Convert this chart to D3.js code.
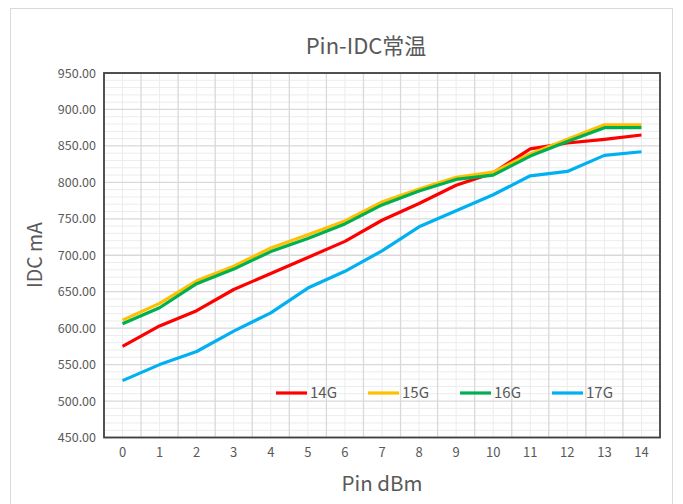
<!DOCTYPE html>
<html>
<head>
<meta charset="utf-8">
<script src="https://cdn.jsdelivr.net/npm/d3@7/dist/d3.min.js"></script>
<style>
  html, body { margin: 0; padding: 0; background: #fff; }
  svg { display: block; }
</style>
</head>
<body>
<svg id="chart" width="683" height="504"></svg>
<script>
// Input power steps (dBm)
const pinLevels = [0, 1, 2, 3, 4, 5, 6, 7, 8, 9, 10, 11, 12, 13, 14];
// Supply current (mA) per frequency band
const idc14G = [575, 603, 624, 653, 675, 697, 719, 748, 771, 796, 813, 846, 854, 859, 865];
const idc15G = [611, 634, 665, 685, 710, 728, 747, 773, 791, 807, 814, 839, 859, 879, 879];
const idc16G = [606, 628, 661, 681, 705, 723, 743, 769, 788, 804, 810, 836, 856, 875, 875];
const idc17G = [528, 550, 568, 596, 621, 655, 678, 706, 739, 761, 783, 809, 815, 837, 842];
const seriesNames = ["14G", "15G", "16G", "17G"];
const yTicks = [450, 500, 550, 600, 650, 700, 750, 800, 850, 900, 950];

const series = [
  { name: seriesNames[0], values: idc14G, color: "#ff0000" },
  { name: seriesNames[1], values: idc15G, color: "#ffc000" },
  { name: seriesNames[2], values: idc16G, color: "#00b050" },
  { name: seriesNames[3], values: idc17G, color: "#00b0f0" }
];

const svg = d3.select("#chart");
const font = "'Noto Sans CJK SC', 'Open Sans', sans-serif";
const textGray = "#595959";

// Outer chart frame
svg.append("rect")
  .attr("x", 10.5).attr("y", 8.5)
  .attr("width", 662).attr("height", 510)
  .attr("fill", "#fff").attr("stroke", "#d9d9d9").attr("stroke-width", 1);

const plot = { left: 104, top: 73, right: 660, bottom: 437.5 };

const x = d3.scaleBand().domain(pinLevels).range([plot.left, plot.right]).padding(0);
const y = d3.scaleLinear().domain([450, 950]).range([plot.bottom, plot.top]);

const g = svg.append("g");

// Minor horizontal grid every 10 mA
g.append("g").selectAll("line")
  .data(d3.range(450, 951, 10).filter(v => v % 50 !== 0))
  .join("line")
  .attr("x1", plot.left).attr("x2", plot.right)
  .attr("y1", d => y(d)).attr("y2", d => y(d))
  .attr("stroke", "#ececec").attr("stroke-width", 1);

// Minor vertical grid at category centres
g.append("g").selectAll("line")
  .data(pinLevels)
  .join("line")
  .attr("x1", d => x(d) + x.bandwidth() / 2).attr("x2", d => x(d) + x.bandwidth() / 2)
  .attr("y1", plot.top).attr("y2", plot.bottom)
  .attr("stroke", "#ececec").attr("stroke-width", 1);

// Major horizontal grid
g.append("g").selectAll("line")
  .data(yTicks)
  .join("line")
  .attr("x1", plot.left).attr("x2", plot.right)
  .attr("y1", d => y(d)).attr("y2", d => y(d))
  .attr("stroke", "#d9d9d9").attr("stroke-width", 1.3);

// Major vertical grid at category boundaries
g.append("g").selectAll("line")
  .data(pinLevels.slice(1))
  .join("line")
  .attr("x1", d => x(d)).attr("x2", d => x(d))
  .attr("y1", plot.top).attr("y2", plot.bottom)
  .attr("stroke", "#d9d9d9").attr("stroke-width", 1.3);

// Y axis labels
const yAxis = d3.axisLeft(y).tickValues(yTicks).tickFormat(d3.format(".2f")).tickSize(0).tickPadding(8);
svg.append("g")
  .attr("transform", `translate(${plot.left},0)`)
  .call(yAxis)
  .call(s => s.select(".domain").remove())
  .selectAll("text")
  .attr("font-family", font).attr("font-size", 12.5).attr("fill", textGray);

// X axis labels
const xAxis = d3.axisBottom(x).tickSize(0).tickPadding(10);
svg.append("g")
  .attr("transform", `translate(0,${plot.bottom})`)
  .call(xAxis)
  .call(s => s.select(".domain").remove())
  .selectAll("text")
  .attr("font-family", font).attr("font-size", 13).attr("fill", textGray);

// Series lines
const line = d3.line()
  .x((d, i) => x(pinLevels[i]) + x.bandwidth() / 2)
  .y(d => y(d));

svg.append("g").selectAll("path")
  .data(series)
  .join("path")
  .attr("d", d => line(d.values))
  .attr("fill", "none")
  .attr("stroke", d => d.color)
  .attr("stroke-width", 3.2)
  .attr("stroke-linejoin", "round");

// Plot area border
svg.append("rect")
  .attr("x", plot.left).attr("y", plot.top)
  .attr("width", plot.right - plot.left).attr("height", plot.bottom - plot.top)
  .attr("fill", "none").attr("stroke", "#404040").attr("stroke-width", 1.8);

// Legend
const legendX = [276, 368, 460, 552];
const legendY = 393;
const lg = svg.append("g").selectAll("g")
  .data(series)
  .join("g")
  .attr("transform", (d, i) => `translate(${legendX[i]},${legendY})`);
lg.append("line")
  .attr("x1", 0).attr("x2", 31).attr("y1", 0).attr("y2", 0)
  .attr("stroke", d => d.color).attr("stroke-width", 3.2);
lg.append("text")
  .attr("x", 34).attr("y", 0).attr("dy", "0.35em")
  .attr("font-family", font).attr("font-size", 15).attr("fill", textGray)
  .text(d => d.name);

// Title
svg.append("text")
  .attr("x", 366).attr("y", 46).attr("dy", "0.35em")
  .attr("text-anchor", "middle")
  .attr("font-family", font).attr("font-size", 22).attr("fill", textGray)
  .text("Pin-IDC常温");

// Axis titles
svg.append("text")
  .attr("x", 382).attr("y", 484).attr("dy", "0.35em")
  .attr("text-anchor", "middle")
  .attr("font-family", font).attr("font-size", 20.5).attr("fill", textGray)
  .text("Pin dBm");

svg.append("text")
  .attr("transform", "translate(35,255) rotate(-90)")
  .attr("dy", "0.35em")
  .attr("text-anchor", "middle")
  .attr("font-family", font).attr("font-size", 19.5).attr("fill", textGray)
  .text("IDC mA");
</script>
</body>
</html>
